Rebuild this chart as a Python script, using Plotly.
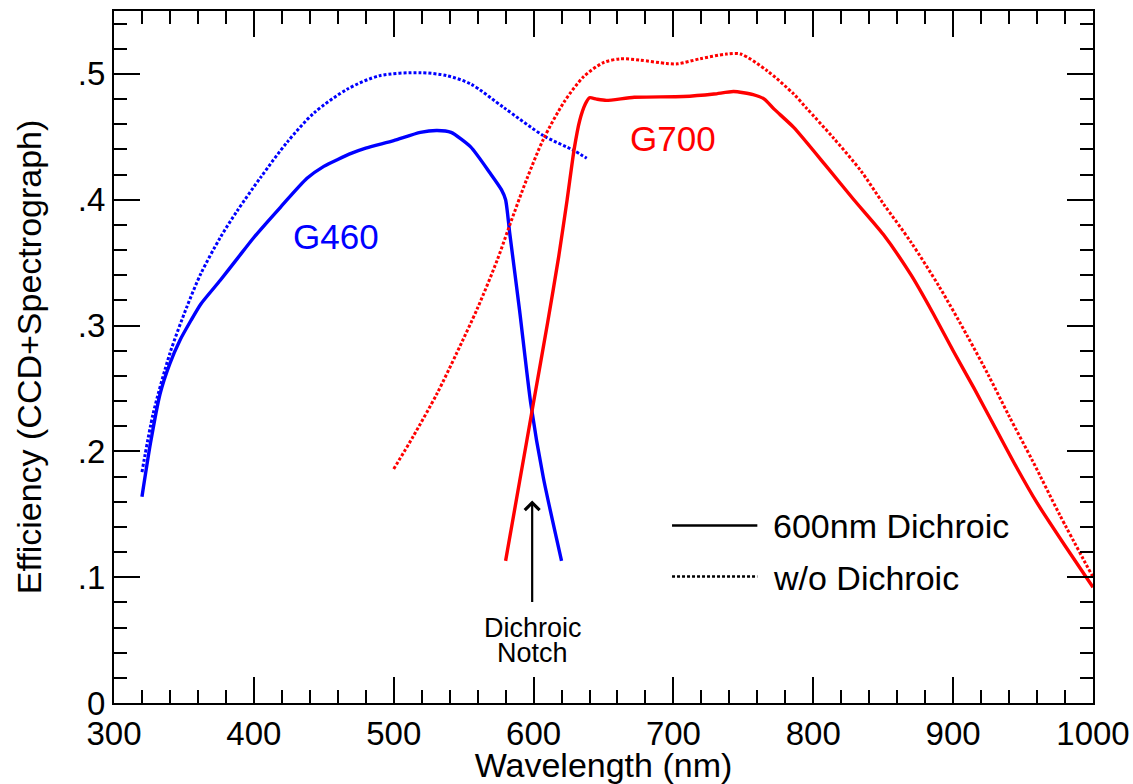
import plotly.graph_objects as go

# G460 with 600nm dichroic (solid blue)
g460_dich_x = [320, 326, 333, 340, 347, 355, 362, 376, 388, 400, 419, 438, 450, 460, 470, 480, 500, 519, 531, 541, 555, 569, 577, 580, 583, 590, 598, 607, 620]
g460_dich_y = [0.164, 0.206, 0.246, 0.270, 0.288, 0.304, 0.317, 0.336, 0.353, 0.370, 0.394, 0.417, 0.4265, 0.432, 0.437, 0.441, 0.447, 0.4535, 0.455, 0.4535, 0.442, 0.421, 0.408, 0.400, 0.373, 0.312, 0.238, 0.179, 0.113]

# G460 without dichroic (dotted blue)
g460_nodich_x = [320, 328, 340, 352, 362, 376, 388, 405, 424, 443, 467, 490, 519, 538, 555, 579, 607, 629, 638]
g460_nodich_y = [0.1835, 0.230, 0.278, 0.3146, 0.341, 0.370, 0.391, 0.418, 0.446, 0.469, 0.488, 0.4986, 0.501, 0.4986, 0.492, 0.473, 0.451, 0.439, 0.433]

# G700 with 600nm dichroic (solid red)
g700_dich_x = [580, 590, 600, 610, 618, 624, 629, 633, 637, 640, 645, 652, 672, 707, 729, 743, 757, 765, 772, 786, 810, 829, 850, 870, 885, 900, 915, 930, 945, 960, 980, 1000]
g700_dich_y = [0.113, 0.176, 0.239, 0.302, 0.355, 0.400, 0.440, 0.463, 0.476, 0.481, 0.480, 0.479, 0.4814, 0.482, 0.484, 0.486, 0.4835, 0.480, 0.472, 0.4575, 0.4257, 0.400, 0.3725, 0.340, 0.311, 0.280, 0.250, 0.219, 0.188, 0.159, 0.125, 0.092]

# G700 without dichroic (dotted red)
g700_nodich_x = [500, 514, 531, 545, 560, 574, 583, 595, 607, 622, 636, 650, 662, 676, 695, 703, 719, 738, 748, 767, 786, 795, 814, 834, 850, 870, 890, 910, 925, 940, 957, 976, 1000]
g700_nodich_y = [0.186, 0.212, 0.246, 0.278, 0.314, 0.352, 0.380, 0.416, 0.448, 0.478, 0.498, 0.509, 0.512, 0.511, 0.5083, 0.508, 0.512, 0.5158, 0.5158, 0.5025, 0.484, 0.473, 0.4496, 0.423, 0.397, 0.366, 0.331, 0.292, 0.261, 0.228, 0.192, 0.150, 0.100]

x_ticks = [300, 400, 500, 600, 700, 800, 900, 1000]
y_ticks = [0, 0.1, 0.2, 0.3, 0.4, 0.5]
y_tick_text = ["0", ".1", ".2", ".3", ".4", ".5"]

FONT = "Liberation Sans, Arial, Helvetica, sans-serif"
BLUE = "#0000ff"
RED = "#ff0000"
DOT = "3px,2px"

fig = go.Figure()
fig.add_trace(go.Scatter(x=g460_nodich_x, y=g460_nodich_y, mode="lines", line=dict(color=BLUE, width=3, dash=DOT, shape="spline", smoothing=0.8), showlegend=False))
fig.add_trace(go.Scatter(x=g460_dich_x, y=g460_dich_y, mode="lines", line=dict(color=BLUE, width=3.4, shape="spline", smoothing=0.6), showlegend=False))
fig.add_trace(go.Scatter(x=g700_nodich_x, y=g700_nodich_y, mode="lines", line=dict(color=RED, width=3, dash=DOT, shape="spline", smoothing=0.8), showlegend=False))
fig.add_trace(go.Scatter(x=g700_dich_x, y=g700_dich_y, mode="lines", line=dict(color=RED, width=3.4, shape="spline", smoothing=0.6), showlegend=False))

# legend drawn manually
fig.add_shape(type="line", xref="x", yref="y", x0=699, x1=760, y0=0.141, y1=0.141, line=dict(color="black", width=2.5))
fig.add_shape(type="line", xref="x", yref="y", x0=699, x1=760, y0=0.1006, y1=0.1006, line=dict(color="black", width=2.5, dash=DOT))

annots = [
    dict(x=770, y=0.141, text="600nm Dichroic", xanchor="left", yanchor="middle", font=dict(size=34, color="black")),
    dict(x=770, y=0.0995, text="w/o Dichroic", xanchor="left", yanchor="middle", font=dict(size=34, color="black")),
    dict(x=459, y=0.3707, text="G460", xanchor="center", yanchor="middle", font=dict(size=35, color=BLUE)),
    dict(x=699.5, y=0.449, text="G700", xanchor="center", yanchor="middle", font=dict(size=35, color=RED)),
    dict(x=599.5, y=0.0595, text="Dichroic", xanchor="center", yanchor="middle", font=dict(size=27, color="black")),
    dict(x=599.5, y=0.0395, text="Notch", xanchor="center", yanchor="middle", font=dict(size=27, color="black")),
]
for a in annots:
    a.update(xref="x", yref="y", showarrow=False)
    fig.add_annotation(**a)

# arrow
fig.add_annotation(x=599, y=0.161, ax=599, ay=0.079, xref="x", yref="y", axref="x", ayref="y",
                   text="", showarrow=True, arrowhead=4, arrowsize=1.3, arrowwidth=2.2, arrowcolor="black")

axis_common = dict(
    showgrid=False, zeroline=False, showline=True, linecolor="black", linewidth=2,
    mirror="ticks", ticks="inside", tickcolor="black", tickwidth=1.6, ticklen=26,
    tickfont=dict(size=33, color="black", family=FONT),
)
fig.update_xaxes(range=[300, 1000], tickvals=x_ticks, ticktext=[str(v) for v in x_ticks],
                 minor=dict(dtick=20, ticks="inside", ticklen=13, tickcolor="black", tickwidth=1.6, showgrid=False),
                 title=dict(text="Wavelength (nm)", font=dict(size=34, color="black", family=FONT), standoff=0),
                 **axis_common)
fig.update_yaxes(range=[0, 0.55], tickvals=y_ticks, ticktext=y_tick_text,
                 minor=dict(dtick=0.02, tick0=0, ticks="inside", ticklen=13, tickcolor="black", tickwidth=1.6, showgrid=False),
                 title=dict(text="Efficiency (CCD+Spectrograph)", font=dict(size=34, color="black", family=FONT), standoff=26),
                 **axis_common)

fig.update_layout(
    width=1133, height=784,
    margin=dict(l=114, r=40, t=11, b=81, autoexpand=False),
    paper_bgcolor="white", plot_bgcolor="white",
    font=dict(family=FONT, color="black"),
    showlegend=False,
)

fig.write_html("out.html", config={"displayModeBar": False},
               post_script="document.body.style.margin='0';document.body.style.overflow='hidden';")
